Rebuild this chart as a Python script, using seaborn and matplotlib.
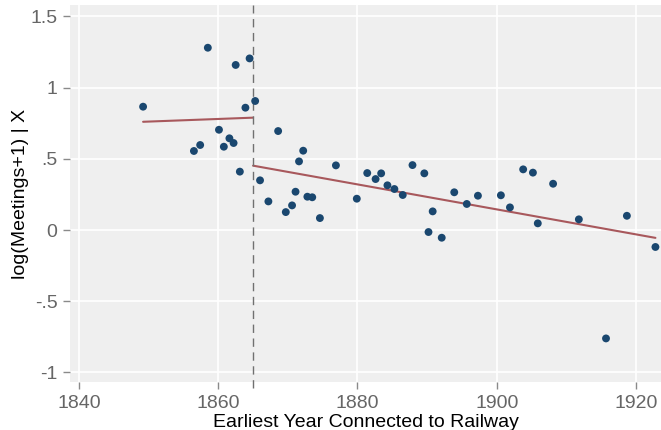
import matplotlib
matplotlib.use("Agg")
import matplotlib.pyplot as plt
import seaborn as sns
import pandas as pd

# Binned means of log(Meetings+1) by year of first railway connection
years = [1849.2, 1856.5, 1857.4, 1858.5, 1860.1, 1860.8, 1861.6, 1862.2,
         1862.5, 1863.1, 1863.9, 1864.5, 1865.3, 1866.0, 1867.2, 1868.6,
         1869.7, 1870.6, 1871.1, 1871.6, 1872.2, 1872.8, 1873.5, 1874.6,
         1876.9, 1879.9, 1881.4, 1882.6, 1883.4, 1884.3, 1885.3, 1886.5,
         1887.9, 1889.6, 1890.2, 1890.8, 1892.1, 1893.9, 1895.7, 1897.3,
         1900.6, 1901.9, 1903.8, 1905.2, 1905.9, 1908.1, 1911.8, 1915.7,
         1918.7, 1922.8]
meetings = [0.866, 0.555, 0.597, 1.280, 0.704, 0.585, 0.644, 0.611,
            1.159, 0.410, 0.859, 1.205, 0.906, 0.349, 0.201, 0.695,
            0.126, 0.173, 0.269, 0.482, 0.557, 0.234, 0.230, 0.084,
            0.454, 0.220, 0.400, 0.358, 0.398, 0.314, 0.288, 0.246,
            0.456, 0.398, -0.014, 0.131, -0.054, 0.265, 0.183, 0.241,
            0.244, 0.159, 0.426, 0.403, 0.047, 0.325, 0.075, -0.761,
            0.100, -0.119]

# Fitted lines on each side of the 1865 cutoff
fit_pre_x = [1849.2, 1865.0]
fit_pre_y = [0.760, 0.789]
fit_post_x = [1865.0, 1922.8]
fit_post_y = [0.452, -0.055]

cutoff = 1865.0
x_ticks = [1840, 1860, 1880, 1900, 1920]
y_ticks = [-1, -0.5, 0, 0.5, 1, 1.5]
y_tick_labels = ["-1", "-.5", "0", ".5", "1", "1.5"]

sns.set_theme(style="darkgrid", rc={
    "axes.facecolor": "#efefef",
    "grid.color": "white",
    "grid.linewidth": 1.2,
})
plt.rcParams["font.family"] = ["Liberation Sans", "DejaVu Sans"]

df = pd.DataFrame({"year": years, "meetings": meetings})
pre = pd.DataFrame({"x": fit_pre_x, "y": fit_pre_y})
post = pd.DataFrame({"x": fit_post_x, "y": fit_post_y})

fig = plt.figure(figsize=(6.61, 4.30), dpi=100)
ax = fig.add_axes([70 / 661, 1 - 382 / 430, 1 - 70 / 661, 377 / 430])

line_color = "#a8585c"
sns.lineplot(data=pre, x="x", y="y", ax=ax, color=line_color, linewidth=1.5)
sns.lineplot(data=post, x="x", y="y", ax=ax, color=line_color, linewidth=1.5)
sns.scatterplot(data=df, x="year", y="meetings", ax=ax, color="#1a476f",
                s=32, edgecolor="none", zorder=3)

ax.axvline(cutoff, color="#707070", linestyle=(0, (6, 4)), linewidth=1.0,
           zorder=2, ymin=-0.015, clip_on=False)

ax.set_xlim(1838.7, 1923.6)
ax.set_ylim(-1.067, 1.58)
ax.set_xticks(x_ticks)
ax.set_yticks(y_ticks)
ax.set_yticklabels(y_tick_labels)

for s in ax.spines.values():
    s.set_visible(False)

ax.tick_params(axis="both", which="both", length=5, width=1, color="#8a8a8a",
               labelcolor="#666666", labelsize=14, pad=4,
               bottom=True, left=True)
ax.set_xlabel("Earliest Year Connected to Railway", fontsize=14,
              color="black", labelpad=2)
ax.set_ylabel("log(Meetings+1) | X", fontsize=14, color="black",
              labelpad=1)

fig.savefig("out.png", dpi=100)
